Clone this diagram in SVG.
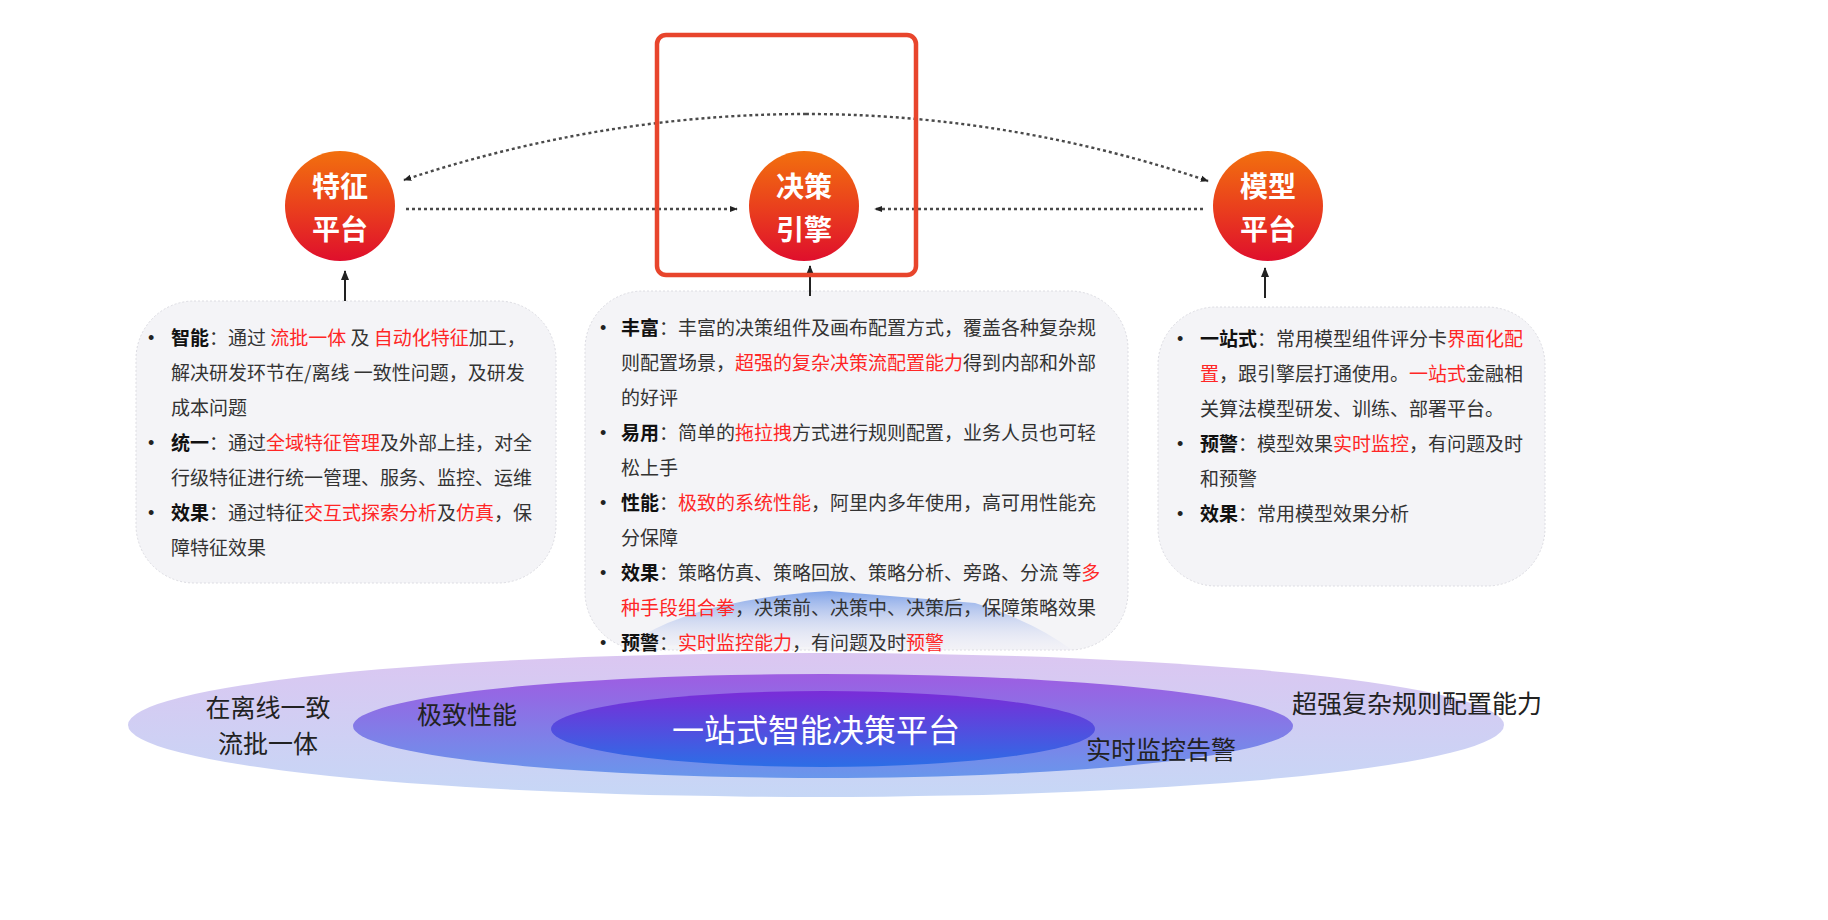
<svg xmlns="http://www.w3.org/2000/svg" width="1828" height="920" viewBox="0 0 1828 920">
<style>
.t{font-family:"Noto Sans CJK SC","Noto Sans",sans-serif;font-size:19px;fill:#333}
.b{font-weight:700;fill:#111}
.r{fill:#FF2626}
.bul{font-family:"Liberation Sans",sans-serif;font-size:18px;fill:#222}
.nl{font-family:"Noto Sans CJK SC",sans-serif;font-size:28px;font-weight:700;fill:#fff;text-anchor:middle}
.card{fill:#F4F4F7;stroke:#DCDCE2;stroke-width:1;stroke-dasharray:2 2}
.dot{fill:none;stroke:#4a4a4a;stroke-width:2.4;stroke-dasharray:3 3}
.sol{fill:none;stroke:#222;stroke-width:2}
.el{font-family:"Noto Sans CJK SC",sans-serif;font-weight:400;text-anchor:middle}
</style>
<defs>
<linearGradient id="gc" x1="0" y1="0" x2="0" y2="1">
<stop offset="0" stop-color="#F2700E"/><stop offset="0.55" stop-color="#E93C1E"/><stop offset="1" stop-color="#DF0F2C"/>
</linearGradient>
<linearGradient id="g1" x1="0" y1="0" x2="0" y2="1">
<stop offset="0" stop-color="#DBC6F1"/><stop offset="1" stop-color="#C6D7F6"/>
</linearGradient>
<linearGradient id="g2" x1="0" y1="0" x2="0" y2="1">
<stop offset="0" stop-color="#9E5DE2"/><stop offset="1" stop-color="#6997EC"/>
</linearGradient>
<linearGradient id="g3" x1="0" y1="0" x2="0" y2="1">
<stop offset="0" stop-color="#7A2CD8"/><stop offset="1" stop-color="#2C6EE6"/>
</linearGradient>
<linearGradient id="gl" x1="0" y1="0" x2="0" y2="1">
<stop offset="0" stop-color="#7A9FE8" stop-opacity="0.95"/><stop offset="0.5" stop-color="#B9C8EE" stop-opacity="0.6"/><stop offset="1" stop-color="#ECEAF6" stop-opacity="0.2"/>
</linearGradient>
<marker id="ah" viewBox="0 0 10 10" refX="9" refY="5" markerWidth="8" markerHeight="8" markerUnits="userSpaceOnUse" orient="auto">
<path d="M0,1 L10,5 L0,9 z" fill="#222"/>
</marker>
<marker id="ah2" viewBox="0 0 10 10" refX="9" refY="5" markerWidth="10" markerHeight="10" markerUnits="userSpaceOnUse" orient="auto">
<path d="M0,1 L10,5 L0,9 z" fill="#222"/>
</marker>
</defs>
<rect width="1828" height="920" fill="#fff"/>

<g id="platform">
<ellipse cx="816" cy="725" rx="688" ry="72" fill="url(#g1)"/>
<ellipse cx="823" cy="726" rx="470" ry="52" fill="url(#g2)"/>
<ellipse cx="823" cy="729" rx="272" ry="38" fill="url(#g3)"/>
<text class="el" x="268" y="717" font-size="25" fill="#222">在离线一致</text>
<text class="el" x="268" y="753" font-size="25" fill="#222">流批一体</text>
<text class="el" x="467" y="724" font-size="25" fill="#222">极致性能</text>
<text class="el" x="816" y="742" font-size="32" fill="#fff">一站式智能决策平台</text>
<text class="el" x="1161" y="759" font-size="25" fill="#222">实时监控告警</text>
<text class="el" x="1417" y="713" font-size="25" fill="#222">超强复杂规则配置能力</text>
</g>

<g id="box-feature">
<rect class="card" x="136" y="301" width="420" height="282" rx="58"/>
<text class="bul" x="148" y="344">•</text>
<text class="t" x="171" y="345"><tspan class="b">智能</tspan>：通过 <tspan class="r">流批一体</tspan> 及 <tspan class="r">自动化特征</tspan>加工，</text>
<text class="t" x="171" y="380">解决研发环节在/离线 一致性问题，及研发</text>
<text class="t" x="171" y="415">成本问题</text>
<text class="bul" x="148" y="449">•</text>
<text class="t" x="171" y="450"><tspan class="b">统一</tspan>：通过<tspan class="r">全域特征管理</tspan>及外部上挂，对全</text>
<text class="t" x="171" y="485">行级特征进行统一管理、服务、监控、运维</text>
<text class="bul" x="148" y="519">•</text>
<text class="t" x="171" y="520"><tspan class="b">效果</tspan>：通过特征<tspan class="r">交互式探索分析</tspan>及<tspan class="r">仿真</tspan>，保</text>
<text class="t" x="171" y="555">障特征效果</text>
</g>

<g id="box-engine">
<rect class="card" x="585" y="291" width="543" height="359" rx="58"/>
<path d="M628,645 Q690,600 829,591 L975,603 Q1035,622 1072,650 Z" fill="url(#gl)"/>
<text class="bul" x="600" y="334">•</text>
<text class="t" x="621" y="335"><tspan class="b">丰富</tspan>：丰富的决策组件及画布配置方式，覆盖各种复杂规</text>
<text class="t" x="621" y="370">则配置场景，<tspan class="r">超强的复杂决策流配置能力</tspan>得到内部和外部</text>
<text class="t" x="621" y="405">的好评</text>
<text class="bul" x="600" y="439">•</text>
<text class="t" x="621" y="440"><tspan class="b">易用</tspan>：简单的<tspan class="r">拖拉拽</tspan>方式进行规则配置，业务人员也可轻</text>
<text class="t" x="621" y="475">松上手</text>
<text class="bul" x="600" y="509">•</text>
<text class="t" x="621" y="510"><tspan class="b">性能</tspan>：<tspan class="r">极致的系统性能</tspan>，阿里内多年使用，高可用性能充</text>
<text class="t" x="621" y="545">分保障</text>
<text class="bul" x="600" y="579">•</text>
<text class="t" x="621" y="580"><tspan class="b">效果</tspan>：策略仿真、策略回放、策略分析、旁路、分流 等<tspan class="r">多</tspan></text>
<text class="t" x="621" y="615"><tspan class="r">种手段组合拳</tspan>，决策前、决策中、决策后，保障策略效果</text>
<text class="bul" x="600" y="649">•</text>
<text class="t" x="621" y="650"><tspan class="b">预警</tspan>：<tspan class="r">实时监控能力</tspan>，有问题及时<tspan class="r">预警</tspan></text>
</g>

<g id="box-model">
<rect class="card" x="1158" y="307" width="387" height="279" rx="58"/>
<text class="bul" x="1177" y="345">•</text>
<text class="t" x="1200" y="346"><tspan class="b">一站式</tspan>：常用模型组件评分卡<tspan class="r">界面化配</tspan></text>
<text class="t" x="1200" y="381"><tspan class="r">置</tspan>，跟引擎层打通使用。<tspan class="r">一站式</tspan>金融相</text>
<text class="t" x="1200" y="416">关算法模型研发、训练、部署平台。</text>
<text class="bul" x="1177" y="450">•</text>
<text class="t" x="1200" y="451"><tspan class="b">预警</tspan>：模型效果<tspan class="r">实时监控</tspan>，有问题及时</text>
<text class="t" x="1200" y="486">和预警</text>
<text class="bul" x="1177" y="520">•</text>
<text class="t" x="1200" y="521"><tspan class="b">效果</tspan>：常用模型效果分析</text>
</g>

<g id="connectors">
<path class="dot" d="M406,209 L737,209" marker-end="url(#ah)"/>
<path class="dot" d="M1203,209 L875,209" marker-end="url(#ah)"/>
<path class="dot" d="M806,114 C 700,114 560,128 404,180" marker-end="url(#ah)"/>
<path class="dot" d="M806,114 C 912,114 1052,128 1208,181" marker-end="url(#ah)"/>
<path class="sol" d="M345,301 L345,271" marker-end="url(#ah2)"/>
<path class="sol" d="M810,296 L810,266" marker-end="url(#ah2)"/>
<path class="sol" d="M1265,298 L1265,268" marker-end="url(#ah2)"/>
</g>

<g id="n-feature">
<circle cx="340" cy="206" r="55" fill="url(#gc)"/>
<text class="nl" x="340" y="197">特征</text>
<text class="nl" x="340" y="240">平台</text>
</g>
<g id="n-engine">
<circle cx="804" cy="206" r="55" fill="url(#gc)"/>
<text class="nl" x="804" y="197">决策</text>
<text class="nl" x="804" y="240">引擎</text>
</g>
<g id="n-model">
<circle cx="1268" cy="206" r="55" fill="url(#gc)"/>
<text class="nl" x="1268" y="197">模型</text>
<text class="nl" x="1268" y="240">平台</text>
</g>

<g id="highlight">
<rect x="657" y="35" width="259" height="240" rx="9" fill="none" stroke="#E8452C" stroke-width="4.5"/>
</g>
</svg>
